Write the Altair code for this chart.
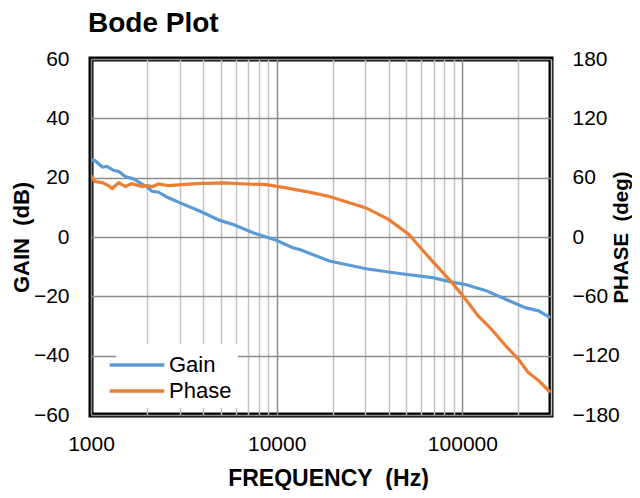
import altair as alt
import pandas as pd

# Gain series (frequency in Hz, gain in dB)
gain_freq = [1000, 1050, 1150, 1220, 1320, 1410, 1530, 1700, 1840, 2000, 2130, 2310, 2610,
             3020, 3870, 4940, 5830, 7460, 9950, 12200, 13300, 19200, 30300, 45700, 68900,
             88100, 104000, 133000, 171000, 218000, 257000, 297000]
gain_db = [26.0, 25.8, 23.6, 23.8, 22.5, 22.1, 20.4, 19.6, 18.2, 16.9, 15.4, 15.1, 13.2,
           11.5, 8.7, 5.6, 4.2, 1.4, -1.1, -3.6, -4.2, -8.1, -10.7, -12.3, -13.7,
           -15.2, -16.0, -18.0, -21.0, -23.8, -24.9, -27.2]

# Phase series (frequency in Hz, phase in degrees)
phase_freq = [1000, 1050, 1150, 1240, 1300, 1410, 1530, 1660, 1880, 2000, 2150, 2310, 2600,
              3710, 5160, 6870, 8810, 11260, 15650, 19230, 30260, 40200, 51500, 58500, 68900,
              88100, 104000, 122000, 143000, 171000, 200000, 226000, 257000, 297000]
phase_deg = [62, 56, 55, 52, 49, 55, 51, 54, 51, 52, 51, 53.6, 52,
             54, 54.7, 53.6, 53, 49.6, 44.6, 41, 29.4, 17.6, 2.5, -9.3, -24.4,
             -46.2, -63, -80, -93, -110, -123.5, -137, -145, -157]

series_names = ["Gain", "Phase"]
series_colors = ["#5B9BD5", "#ED7D31"]

x_ticks = [1000, 2000, 3000, 4000, 5000, 6000, 7000, 8000, 9000,
           10000, 20000, 30000, 40000, 50000, 60000, 70000, 80000, 90000,
           100000, 200000, 300000]
gain_ticks = [-60, -40, -20, 0, 20, 40, 60]
phase_ticks = [-180, -120, -60, 0, 60, 120, 180]

df = pd.concat([
    pd.DataFrame({"freq": gain_freq, "value": gain_db, "series": "Gain"}),
    pd.DataFrame({"freq": phase_freq, "value": phase_deg, "series": "Phase"}),
])

FONT = "Liberation Sans"
NB = "\u00a0"
TICK_FS = 21
TITLE_FS = 22

color = alt.Color(
    "series:N",
    scale=alt.Scale(domain=series_names, range=series_colors),
    legend=alt.Legend(
        title=None, orient="none", legendX=25, legendY=285,
        symbolType="M-2.1,0H2.1", symbolSize=676, symbolStrokeWidth=3.5,
        symbolFillColor="transparent",
        labelFontSize=22, labelFont=FONT, labelColor="#000",
        fillColor="white", padding=6, rowPadding=0, labelOffset=17,
    ),
)

x_enc = alt.X(
    "freq:Q",
    scale=alt.Scale(type="log", domain=[1000, 300000], nice=False),
    axis=alt.Axis(
        values=x_ticks,
        labelExpr="(datum.value == 1000 || datum.value == 10000 || datum.value == 100000) ? format(datum.value, 'd') : ''",
        labelOverlap=False, labelFlush=False,
        grid=True,
        gridColor={"condition": {"test": "datum.value == 1000 || datum.value == 10000 || datum.value == 100000",
                                 "value": "#8c8c8c"}, "value": "#c4c4c4"},
        gridWidth=1.5,
        ticks=False, domain=False,
        labelFontSize=TICK_FS, labelFont=FONT, labelColor="#000", labelPadding=18,
        title="FREQUENCY" + NB + NB + "(Hz)", titleFontSize=23, titleFont=FONT,
        titleFontWeight="bold", titleColor="#000", titlePadding=13, titleX=237,
    ),
)

gain = alt.Chart(df).transform_filter(alt.datum.series == "Gain").mark_line(
    strokeWidth=3.2, clip=True
).encode(
    x=x_enc,
    y=alt.Y(
        "value:Q",
        scale=alt.Scale(domain=[-60, 60], nice=False),
        axis=alt.Axis(
            values=gain_ticks, grid=True, gridColor="#8c8c8c", gridWidth=1.5,
            ticks=False, domain=False,
            labelFontSize=TICK_FS, labelFont=FONT, labelColor="#000", labelPadding=22,
            title="GAIN" + NB + NB + "(dB)", titleFontSize=TITLE_FS, titleFont=FONT,
            titleFontWeight="bold", titleColor="#000", titlePadding=0,
        ),
    ),
    color=color,
)

phase = alt.Chart(df).transform_filter(alt.datum.series == "Phase").mark_line(
    strokeWidth=3.2, clip=True
).encode(
    x=alt.X("freq:Q", scale=alt.Scale(type="log", domain=[1000, 300000], nice=False)),
    y=alt.Y(
        "value:Q",
        scale=alt.Scale(domain=[-180, 180], nice=False),
        axis=alt.Axis(
            orient="right", values=phase_ticks, grid=False,
            ticks=False, domain=False,
            labelFontSize=TICK_FS, labelFont=FONT, labelColor="#000", labelPadding=21,
            title="PHASE" + NB + NB + "(deg)", titleFontSize=20.5, titleFont=FONT,
            titleFontWeight="bold", titleColor="#000", titlePadding=12, titleAngle=270,
        ),
    ),
    color=color,
)

chart = alt.layer(gain, phase).resolve_scale(y="independent").properties(
    width=460, height=356,
    autosize=alt.AutoSizeParams(type="none"),
    padding={"left": 83, "top": 51, "right": 81, "bottom": 75},
    background="white",
    title=alt.TitleParams(
        "Bode Plot", anchor="start", frame="group", fontSize=28, font=FONT,
        fontWeight="bold", color="#000", offset=10, dx=-3,
    ),
).configure_view(
    stroke="#000", strokeWidth=5,
)

chart.save("out.html", embed_options={"renderer": "svg", "actions": False})
